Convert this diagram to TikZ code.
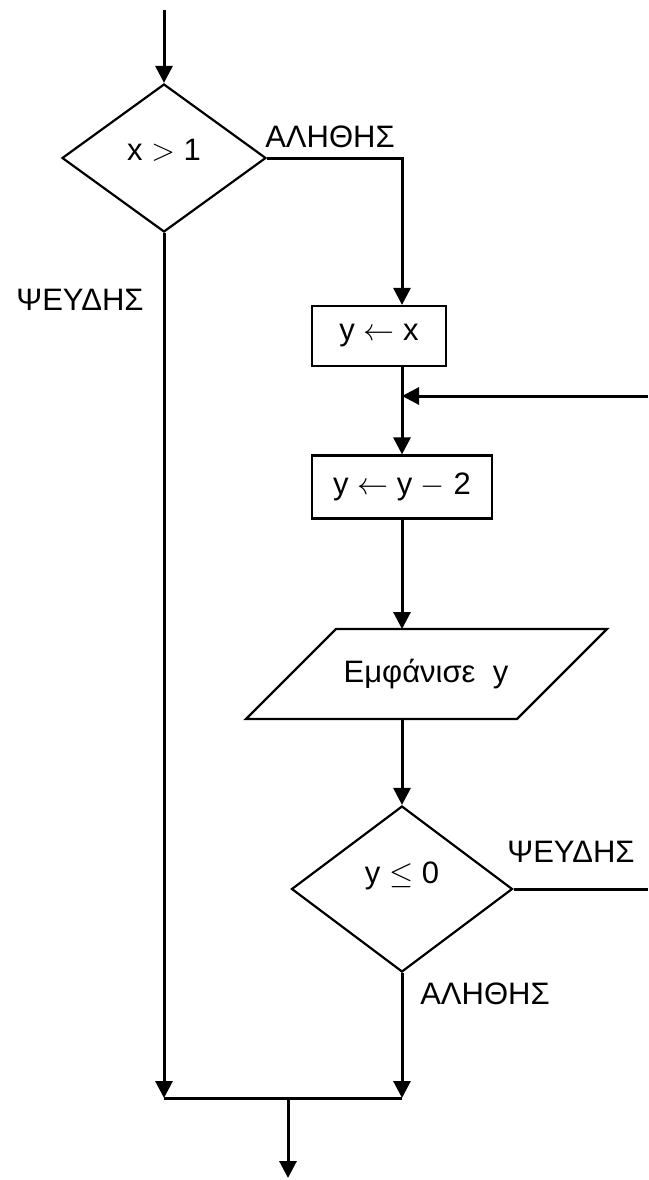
\documentclass[tikz,border=0pt]{standalone}
\usepackage{fix-cm}
\usepackage{fontspec}
\setmainfont{Liberation Sans}
\usetikzlibrary{shapes.geometric,arrows.meta,calc}

\begin{document}
\begin{tikzpicture}[x=1pt,y=-1pt,font=\fontsize{31}{37}\selectfont,
  flow/.style={line width=3pt,-{Triangle[length=17pt,width=17pt]}},
  link/.style={line width=3pt},
  cond/.style={diamond,draw,line width=2.2pt,inner sep=0pt},
  proc/.style={rectangle,draw,line width=2.2pt,inner sep=0pt}]
\useasboundingbox (0,0) rectangle (648,1180);
% boxes
\node[cond,minimum width=204pt,minimum height=148pt,text depth=17pt] (c1) at (164,158) {x $>$ 1};
\node[proc,minimum width=134pt,minimum height=60pt] (b1) at (379,336) {y $\leftarrow$ x};
\node[proc,minimum width=180pt,minimum height=63pt] (b2) at (402,487) {y $\leftarrow$ y $-$ 2};
\node (out) at (426,674) {Εμφάνισε~~y};
\draw[line width=2.2pt] ($(out)+(-180,45)$) -- ($(out)+(-90,-45)$) -- ($(out)+(181,-45)$) -- ($(out)+(91,45)$) -- cycle;
\node[cond,minimum width=221pt,minimum height=166pt,text depth=33pt] (c2) at (402,889) {y $\leq$ 0};
% labels
\node (t1) at (330,137) {ΑΛΗΘΗΣ};
\node (f1) at (80,300) {ΨΕΥΔΗΣ};
\node (f2) at (571,852) {ΨΕΥΔΗΣ};
\node (t2) at (485,994) {ΑΛΗΘΗΣ};
% points
\coordinate (start) at (164,10);
\coordinate (back) at (648,396);
\coordinate (outtop) at (402,629);
\coordinate (outbot) at (402,719);
\coordinate (jl) at (164,1098);
\coordinate (jr) at (402,1098);
\coordinate (jm) at (288,1098);
\coordinate (stop) at (288,1178);
% lines
\draw[flow] (start) -- (c1.north);
\draw[flow] (c1.east) -| (b1.north -| b2);
\draw[flow] (b1.south -| b2) -- (b2.north);
\draw[flow] (back) -- (back -| b2);
\draw[flow] (b2.south) -- (outtop);
\draw[flow] (outbot) -- (c2.north);
\draw[link] (c2.east) -- (c2.east -| back);
\draw[flow] (c1.south) -- (jl);
\draw[flow] (c2.south) -- (jr);
\draw[link] (jl) -- (jr);
\draw[flow] (jm) -- (stop);
\end{tikzpicture}
\end{document}
